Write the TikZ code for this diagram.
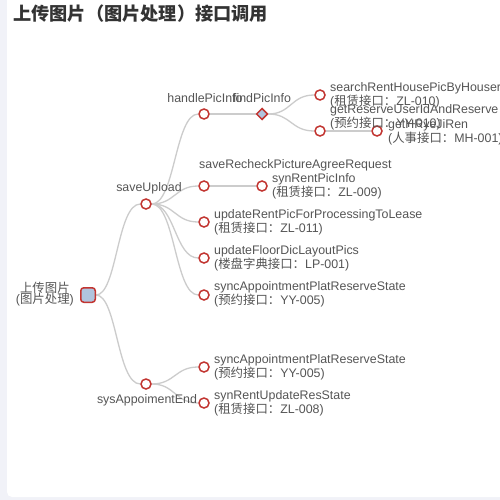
\documentclass[tikz,border=0pt]{standalone}
\usepackage{fontspec}
\setmainfont{Liberation Sans}
\newfontfamily\cjk{Noto Sans CJK SC}
\usepackage{tikz}
\usetikzlibrary{shapes.geometric, calc}
\definecolor{myred}{HTML}{C23531}
\definecolor{mysteel}{HTML}{B0C4DE}
\definecolor{mygray}{HTML}{CCCCCC}
\definecolor{mytext}{HTML}{555555}
\definecolor{mystrip}{HTML}{F1F2F8}
\pgfdeclarelayer{backdrop}
\pgfdeclarelayer{edges}
\pgfsetlayers{backdrop,edges,main}
\tikzset{
	leafnode/.style={
			circle,
			draw=myred,
			fill=white,
			line width=1.5pt,
			minimum size=10pt,
			inner sep=0pt
		},
	rootnode/.style={
			rectangle,
			rounded corners=3pt,
			draw=myred,
			fill=mysteel,
			line width=1.5pt,
			minimum size=14.5pt,
			inner sep=0pt
		},
	diamondnode/.style={
			diamond,
			draw=myred,
			fill=mysteel,
			line width=1.5pt,
			minimum size=11.5pt,
			inner sep=0pt
		},
	labeltext/.style={
			text=mytext,
			font=\fontsize{12.4}{11.5}\selectfont,
			align=left,
			inner sep=0pt
		},
	branch/.style={
			draw=mygray,
			line width=1.3pt,
			to path={let \p1=(\tikztostart), \p2=(\tikztotarget) in
				.. controls ({(\x1+\x2)/2},\y1) and ({(\x1+\x2)/2},\y2) .. (\tikztotarget)}
		}
}

\begin{document}
\begin{tikzpicture}[x=1pt, y=-1pt]
\useasboundingbox (0,0) rectangle (500,500);
\begin{pgfonlayer}{backdrop}
\fill[mystrip] (0,0) rectangle (500,500);
\fill[white, rounded corners=5pt] (7,-10) rectangle (510,497);
\end{pgfonlayer}
\clip (0,0) rectangle (500,500);

\node[anchor=west, inner sep=0pt, text=black!80, font=\cjk\bfseries\fontsize{18.2}{19}\selectfont] (title) at (13,14) {上传图片（图片处理）接口调用};

% tree nodes
\node[rootnode] (tRoot) at (88,295) {};
\node[leafnode] (tSave) at (146,204) {};
\node[leafnode] (tSys) at (146,384) {};
\node[leafnode] (tHandle) at (204,114) {};
\node[diamondnode] (tFind) at (262,114) {};
\node[leafnode] (tSearch) at (320,95) {};
\node[leafnode] (tGetRes) at (320,131) {};
\node[leafnode] (tGetHR) at (377,131) {};
\node[leafnode] (tRecheck) at (204,186) {};
\node[leafnode] (tSynPic) at (262,186) {};
\node[leafnode] (tUpdRent) at (204,222) {};
\node[leafnode] (tUpdFloor) at (204,258) {};
\node[leafnode] (tSyncA) at (204,295) {};
\node[leafnode] (tSyncB) at (204,367) {};
\node[leafnode] (tSynUpd) at (204,403) {};

% labels
\node[labeltext, align=center, anchor=east] (lRoot) at (74,294) {{\cjk 上传图片}\\({\cjk 图片处理})};
\node[labeltext] (lSave) at (149,188) {saveUpload};
\node[labeltext] (lSys) at (147,400) {sysAppoimentEnd};
\node[labeltext] (lHandle) at (205,98) {handlePicInfo};
\node[labeltext] (lFind) at (262,98) {findPicInfo};
\node[labeltext, anchor=west] (lSearch) at (330,95) {searchRentHousePicByHouser\\({\cjk 租赁接口：}ZL-010)};
\node[labeltext, anchor=west] (lGetRes) at (330,117) {getReserveUserIdAndReserve\\({\cjk 预约接口：}YY-010)};
\node[labeltext, anchor=west] (lGetHR) at (388,132) {getHRyeJiRen\\({\cjk 人事接口：}MH-001)};
\node[labeltext, anchor=west] (lRecheck) at (199,165) {saveRecheckPictureAgreeRequest};
\node[labeltext, anchor=west] (lSynPic) at (272,186) {synRentPicInfo\\({\cjk 租赁接口：}ZL-009)};
\node[labeltext, anchor=west] (lUpdRent) at (214,222) {updateRentPicForProcessingToLease\\({\cjk 租赁接口：}ZL-011)};
\node[labeltext, anchor=west] (lUpdFloor) at (214,258) {updateFloorDicLayoutPics\\({\cjk 楼盘字典接口：}LP-001)};
\node[labeltext, anchor=west] (lSyncA) at (214,294) {syncAppointmentPlatReserveState\\({\cjk 预约接口：}YY-005)};
\node[labeltext, anchor=west] (lSyncB) at (214,367) {syncAppointmentPlatReserveState\\({\cjk 预约接口：}YY-005)};
\node[labeltext, anchor=west] (lSynUpd) at (214,403) {synRentUpdateResState\\({\cjk 租赁接口：}ZL-008)};

\begin{pgfonlayer}{edges}
\draw[branch] (tRoot) to (tSave);
\draw[branch] (tRoot) to (tSys);
\draw[branch] (tSave) to (tHandle);
\draw[branch] (tSave) to (tRecheck);
\draw[branch] (tSave) to (tUpdRent);
\draw[branch] (tSave) to (tUpdFloor);
\draw[branch] (tSave) to (tSyncA);
\draw[branch] (tHandle) to (tFind);
\draw[branch] (tFind) to (tSearch);
\draw[branch] (tFind) to (tGetRes);
\draw[branch] (tGetRes) to (tGetHR);
\draw[branch] (tRecheck) to (tSynPic);
\draw[branch] (tSys) to (tSyncB);
\draw[branch] (tSys) to (tSynUpd);
\end{pgfonlayer}

\end{tikzpicture}
\end{document}
